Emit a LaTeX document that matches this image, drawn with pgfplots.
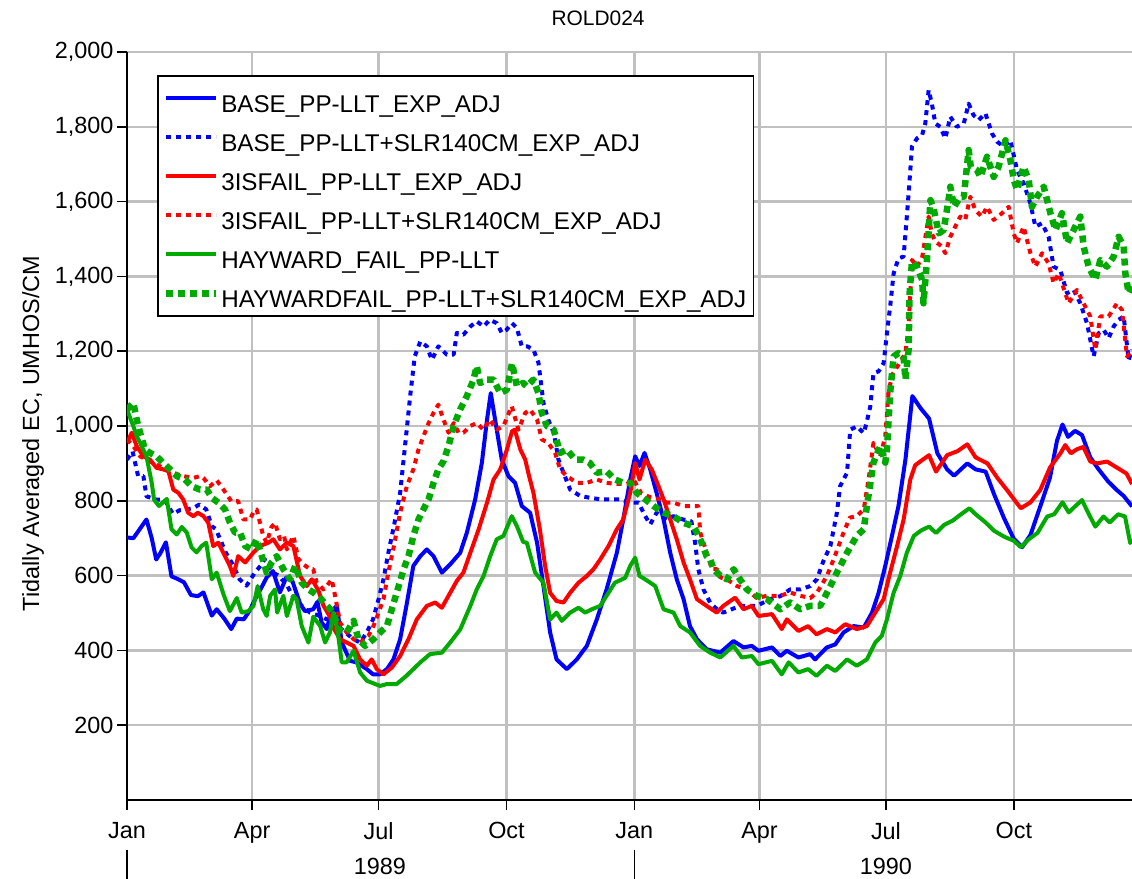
\documentclass[border=0pt]{standalone}
\usepackage{pgfplots}
\pgfplotsset{compat=1.18}
\usepackage{fontspec}
\setmainfont{Liberation Sans}
\definecolor{cblue}{RGB}{0,0,255}
\definecolor{cred}{RGB}{255,0,0}
\definecolor{cgreen}{RGB}{0,170,0}
\definecolor{cgrid}{RGB}{192,192,192}
\newcommand{\fs}{\fontsize{23.5}{28}\selectfont}
\newcommand{\fl}{\fontsize{24.3}{29}\selectfont}
\begin{document}
\begin{tikzpicture}
\begin{axis}[
  scale only axis, width=1005bp, height=748bp,
  xmin=0, xmax=723, ymin=0, ymax=2000,
  axis lines=left, axis line style={-, line width=2bp, black},
  clip mode=individual,
  xtick={0,90,181,273,365,455,546,638},
  xticklabels={Jan,Apr,Jul,Oct,Jan,Apr,Jul,Oct},
  ytick={200,400,...,2000},
  grid=major, major grid style={line width=2.5bp, cgrid},
  tick align=outside, major tick length=10bp,
  tick style={black, line width=1.5bp},
  /pgf/number format/assume math mode=true,
  /pgf/number format/1000 sep={,},
  tick label style={font=\fs},
  xticklabel style={yshift=-9bp},
  every axis plot/.append style={line join=round},
  legend style={at={(0.0299,0.969)}, anchor=north west, draw=black, line width=1.5bp,
     font=\fl, inner xsep=5bp, inner ysep=6bp, row sep=6bp,
     nodes={inner sep=2bp, text height=29bp, text depth=0bp}},
  legend cell align=left,
  legend image code/.code={\draw[#1] (0bp,0bp) -- (50bp,0bp);},
]
\coordinate (SW) at (rel axis cs:0,0);
\coordinate (NE) at (rel axis cs:1,1);
\coordinate (YL) at (rel axis cs:0,0.49);
% BASE_PP-LLT_EXP_ADJ
\addplot[cblue, line width=4bp] coordinates {
(0,702) (4.6,700) (14,750) (17.8,700) (21,643) (24,660) (28,689) (32,598) (37,590) (41,582)
(46,548) (51,545) (55,555) (61,493) (64.5,510) (70,485) (75,457) (79,485) (84,483) (88,505)
(92,535) (96,563) (100.5,595) (105,612) (110,555) (114.6,595) (119,585) (124.5,525) (128,505)
(134,510) (137,530) (140,475) (143.7,457) (147,505) (151,519) (154.5,421) (160.5,372) (165,368)
(172.5,350) (177,336) (182,336) (187,350) (191.7,376) (196.5,430) (201,519) (206,626) (211,652)
(215.7,670) (220.5,652) (226.5,608) (232.5,630) (239.7,661) (244.5,715) (250.5,804) (255.3,902)
(259,1017) (261.7,1088) (264.8,1017) (269.6,910) (274.4,866) (279.2,848) (284,786) (290,768)
(295,688) (299.6,572) (304.4,448) (309,376) (316.4,350) (323.6,376) (330.8,412) (338,483)
(345,563) (352.4,661) (357,750) (362,857) (365.6,919) (368.7,893) (372.3,928) (376.4,884)
(381,821) (386,750) (390.8,661) (395.5,590) (400.4,537) (405,465) (410,430) (417,403)
(426.8,394) (436.3,425) (443.5,408) (449.5,412) (454.3,399) (464,408) (470,385) (474.7,399)
(483,381) (491.5,390) (495,376) (503.5,408) (509.5,416) (515.5,448) (522.7,465) (530,461)
(536,501) (540.7,554) (545.5,626) (550.3,706) (555,786) (560,910) (565,1080) (571,1047)
(577,1020) (583,927) (590,884) (595,867) (604.5,900) (610.5,884) (617.7,878) (623.7,818)
(631,753) (638,698) (644,676) (650,709) (657,785) (664,862) (669,960) (673,1004) (677,971)
(682,987) (687,976) (693,916) (699,884) (706,851) (712,829) (717,813) (723,785)
};
\addlegendentry{BASE\_PP-LLT\_EXP\_ADJ}
% BASE_PP-LLT+SLR140CM_EXP_ADJ
\addplot[cblue, line width=4bp, dash pattern=on 5bp off 5bp] coordinates {
(0,910) (4,932) (8,866) (11.8,866) (14,812) (21,803) (27,803) (33,765) (38,775) (43,777)
(48,781) (52,790) (57,777) (61,732) (64,724) (66,706) (71,662) (76,630) (81,590) (86,573)
(92,608) (96,626) (99,644) (103,612) (109,600) (115,575) (119,546) (125.7,519) (131.7,501)
(138.8,492) (143.7,483) (148.5,519) (152,465) (157,448) (163,430) (167.7,421) (172.5,448)
(177,483) (181,537) (184.5,590) (188,661) (192,732) (196.5,821) (200,946) (203.7,1080)
(207,1186) (211,1226) (215.7,1213) (219.3,1177) (224,1213) (230,1191) (235,1191) (237.3,1249)
(242,1244) (247,1266) (251.6,1280) (256.5,1266) (261,1284) (266,1275) (269.6,1249) (273,1257)
(277,1275) (280.5,1262) (284,1213) (288,1213) (292.4,1204) (296,1169) (299.6,1062) (303,1017)
(307,982) (310.4,910) (314,875) (318.8,830) (326,813) (333,808) (340.4,804) (347.6,804)
(354.8,804) (362,795) (368,795) (372.8,759) (376.4,737) (381,768) (388.4,750) (393,759)
(400,750) (406,745) (408.7,688) (411,617) (414.7,563) (419.5,528) (424.4,510) (429,501)
(441,519) (453,519) (462.7,537) (470,545) (477,563) (484.3,563) (491.5,572) (496.3,590)
(501,639) (506,679) (510.7,768) (513,839) (518,875) (520.3,990) (525,999) (530,981) (532,1008)
(534.7,1052) (537,1141) (540.7,1146) (544.3,1168) (546.7,1248) (549,1319) (551.5,1408)
(555,1448) (558.7,1453) (561,1560) (562.3,1622) (563.5,1684) (564.7,1747) (568.3,1769)
(572,1778) (574.3,1809) (576.7,1898) (579,1862) (581.5,1809) (585,1800) (588.7,1769)
(592.3,1827) (597,1800) (602,1809) (605.5,1862) (609,1831) (612.7,1818) (617.5,1836)
(622.3,1782) (626,1760) (630.7,1747) (635.5,1764) (640.3,1684) (645,1649) (649.9,1595)
(653.5,1533) (658.3,1542) (663,1506) (666.6,1426) (671.4,1417) (676.3,1355) (681,1364)
(685.8,1328) (690.6,1275) (695.4,1186) (699,1248) (702.6,1257) (706.2,1235) (709.8,1266)
(713.4,1284) (717,1293) (720.6,1177) (723,1204)
};
\addlegendentry{BASE\_PP-LLT+SLR140CM\_EXP\_ADJ}
% 3ISFAIL_PP-LLT_EXP_ADJ
\addplot[cred, line width=4bp] coordinates {
(0,955) (3.4,982) (7,946) (11.8,919) (16.5,910) (21.3,888) (26,884) (29.8,879) (33.3,830)
(37,821) (40.5,803) (44,768) (47.7,759) (51,768) (55,759) (58.5,741) (62,679) (65.7,688)
(70.5,652) (74,626) (76.5,599) (80,652) (85,635) (91,662) (95.7,679) (101.7,688) (105.3,697)
(110,670) (115,688) (119.7,679) (124.5,599) (129.3,572) (133,590) (137.7,560) (141.3,520)
(146,490) (148.5,460) (153.3,430) (158,421) (163,412) (167.7,376) (172.5,359) (176,376)
(179.7,350) (184.5,336) (190.5,354) (196.5,385) (202.5,430) (208.5,483) (215.7,519)
(221.7,528) (226.5,514) (231.3,546) (237.3,586) (242,608) (247,661) (253,724) (259,795)
(263.7,857) (268.5,884) (273.3,937) (277,986) (279,990) (283,937) (286.5,910) (289,870)
(292.4,821) (297,724) (300.8,626) (304.4,554) (309,532) (314,528) (318.8,554) (324.8,581)
(330.8,599) (335.6,617) (340.4,643) (346.4,679) (352.4,724) (357,750) (362,821) (365.6,901)
(368.7,857) (372.8,910) (377.5,884) (382.4,839) (386,804) (390.8,750) (395.5,697) (400.4,635)
(405,590) (410,537) (417,519) (424.3,501) (429,519) (437.5,541) (443.5,510) (449.5,519)
(454.3,492) (464,497) (471,457) (474.7,483) (483,452) (490,465) (496,443) (503.5,457)
(509.5,448) (516.7,470) (525,457) (532.3,465) (538.3,501) (544.3,537) (549,608) (554,679)
(558.7,750) (563.5,857) (567,895) (571,906) (577,922) (582,878) (590,922) (597.6,933)
(604.5,951) (610.5,916) (619,900) (626,862) (633,829) (643,780) (650,796) (657,829) (664,889)
(671.5,927) (675,949) (679,927) (683.5,938) (688,944) (693,905) (698,900) (705,905) (712,889)
(719,873) (723,845)
};
\addlegendentry{3ISFAIL\_PP-LLT\_EXP\_ADJ}
% 3ISFAIL_PP-LLT+SLR140CM_EXP_ADJ
\addplot[cred, line width=4bp, dash pattern=on 5bp off 5bp] coordinates {
(0,964) (4.6,946) (9.4,919) (14,910) (19,901) (26,888) (33,875) (40.5,866) (47.7,861)
(52.5,866) (55,861) (59.7,839) (64.5,855) (69.4,830) (75,799) (80,799) (83.7,750) (88.5,750)
(91,770) (93.3,777) (98,706) (100.5,688) (104,730) (106.5,741) (110,697) (113,706) (115,670)
(119.7,706) (123.3,644) (127,630) (131.7,617) (134,617) (136.5,581) (141.3,563) (143.7,572)
(147.3,590) (149.7,546) (153.3,474) (158,448) (163,430) (167.7,421) (173.7,439) (177.3,465)
(181,501) (184.5,537) (188,608) (192,679) (196.5,768) (201.3,839) (206,884) (209.7,937)
(213.3,973) (217,1008) (220.5,1035) (224,1057) (227.7,1017) (231.3,982) (235,1008)
(238.5,982) (242,982) (247,1000) (251.6,1008) (256.5,990) (261,1017) (266,990) (270.8,1000)
(276.8,1053) (281.6,990) (286.5,1035) (290,1044) (295,1017) (298.4,964) (303,955) (308,928)
(311.6,884) (316.4,866) (323.6,848) (330.8,848) (338,857) (345,848) (352.4,845) (359.6,845)
(364.4,857) (370,820) (376,810) (383.6,804) (388.4,795) (393,795) (400.4,786) (406,786)
(411,786) (412.4,715) (417,662) (420.8,617) (424.4,617) (427,595) (431.6,590) (438.8,572)
(446,563) (453,540) (460.4,546) (470,546) (477,555) (484.3,546) (491.5,540) (496.3,554)
(503.5,599) (508.3,643) (515.5,715) (520,755) (525,759) (530,777) (533.5,857) (537,955)
(541.9,919) (545.5,973) (548,1097) (551,1140) (556,1170) (560,1195) (562.3,1266) (563.5,1355)
(564.7,1444) (568.3,1426) (572,1450) (576.7,1560) (579,1515) (581.5,1493) (586.3,1480)
(588.7,1462) (592.3,1506) (597,1542) (599.5,1560) (603,1551) (606.7,1613) (610.3,1577)
(615,1560) (618.7,1586) (623.5,1551) (629.5,1569) (634.3,1586) (637.9,1515) (640.3,1489)
(645,1533) (649.9,1462) (653.5,1426) (658.3,1462) (663,1435) (666.6,1382) (670.3,1408)
(677.4,1328) (683.4,1364) (688.2,1328) (693,1293) (696.6,1204) (700.2,1293) (706.2,1293)
(712.2,1328) (715.8,1310) (719.4,1186) (723,1200)
};
\addlegendentry{3ISFAIL\_PP-LLT+SLR140CM\_EXP\_ADJ}
% HAYWARD_FAIL_PP-LLT
\addplot[cgreen, line width=4bp] coordinates {
(0,1044) (4.6,999) (7,973) (9.4,955) (14,919) (17.8,848) (19.5,803) (23,786) (28.6,805)
(32,724) (35.8,710) (39.4,730) (43,715) (46.5,675) (50,662) (53.7,679) (57,688) (61,590)
(64.5,608) (69.4,550) (74,505) (79,540) (82.5,501) (87.3,505) (91,519) (94,572) (98,510)
(100.5,492) (103,546) (106.5,563) (108,501) (112.5,546) (115,492) (119.7,546) (122,537)
(125.7,465) (130.5,421) (134,490) (139,465) (142.5,421) (146,448) (148.5,501) (151,465)
(154.5,368) (158,368) (163,399) (167.7,341) (172.5,319) (178.5,310) (182,305) (187,310)
(194,310) (201,332) (206,350) (211,368) (218,390) (226.5,394) (232.5,421) (239.7,456)
(247,519) (251.6,563) (256.5,599) (261.3,652) (266,697) (270.8,706) (276.8,759) (280.5,732)
(285,690) (287.6,688) (293.6,608) (299.6,581) (304.4,483) (309,501) (312.8,479) (318.8,501)
(324.8,514) (329.6,501) (334.4,510) (340.4,519) (345,546) (351,581) (358.4,594) (362,626)
(365.6,648) (368.7,599) (372.8,590) (380,572) (386,510) (393.2,501) (398,465) (405,448)
(412.3,412) (419.5,394) (426.8,381) (436.3,412) (442.3,381) (449.5,385) (454.3,363) (464,372)
(471,336) (476,368) (483,341) (490,350) (496,332) (503.5,359) (509.5,345) (518,376) (525,359)
(532.3,376) (538.3,421) (543,439) (546.7,483) (551.5,554) (556.3,599) (561,661) (566,706)
(571,720) (577,731) (582,714) (588,736) (594,747) (600,764) (606,780) (610.5,764) (617.7,742)
(623.7,720) (631,704) (638,693) (643,676) (649,698) (655,714) (662,758) (667,764) (673,796)
(677.5,769) (682,785) (687,802) (692,764) (696.6,731) (702.5,758) (707,742) (713,764)
(718,758) (721.7,687) (723,698)
};
\addlegendentry{HAYWARD\_FAIL\_PP-LLT}
% HAYWARDFAIL_PP-LLT+SLR140CM_EXP_ADJ
\addplot[cgreen, line width=6.5bp, dash pattern=on 7bp off 5bp] coordinates {
(0,1044) (4.6,1062) (7,1017) (9.4,982) (13,937) (16.5,928) (21.3,919) (26,901) (31,884)
(35.8,866) (41.7,857) (46.5,839) (52.5,830) (57.4,830) (61,808) (65.7,795) (70.5,777)
(74.1,741) (77.7,715) (81.3,715) (85,679) (89.7,670) (93.3,697) (97,652) (100.5,608) (104,635)
(107.7,652) (112.5,617) (117.3,590) (121,626) (125.7,581) (130.5,563) (134,555) (139,540)
(143.7,520) (148.5,501) (152,456) (158,448) (163,479) (166.5,430) (171.3,412) (177.3,430)
(182,448) (187,465) (190.5,510) (194,554) (199,617) (202.5,652) (206,706) (209.7,750)
(213.3,777) (217,804) (220.5,848) (224,884) (227.7,906) (231.3,946) (235,1000) (239.7,1044)
(244.5,1080) (249.3,1124) (251.6,1160) (254,1115) (258.8,1124) (263.7,1124) (268.5,1088)
(273.3,1097) (277,1168) (280.5,1106) (285,1115) (287.6,1106) (292.4,1124) (296,1088)
(298.4,1035) (302,1000) (307,990) (311.6,928) (316.4,937) (322.4,910) (328.4,910) (333,901)
(338,875) (345,879) (351,857) (357,848) (362,848) (366.8,821) (372.8,804) (378.8,786)
(386,768) (393,759) (400.4,741) (407.6,732) (412.4,697) (417,652) (419.6,643) (422,617)
(426.8,600) (431.6,590) (436.4,617) (441,590) (446,563) (453,546) (460.4,537) (470,510)
(477,528) (484.3,510) (491.5,519) (498.7,519) (506,572) (510.7,608) (518,661) (525,706)
(530,724) (532.3,786) (537,902) (541.9,946) (545.5,902) (546.7,937) (549,1088) (551.5,1186)
(555,1195) (558.7,1186) (560,1124) (562.3,1204) (563,1355) (564.7,1440) (568.3,1426)
(572,1391) (573,1328) (575.5,1444) (578,1604) (580,1586) (584,1515) (587.5,1524) (591,1604)
(592.3,1640) (595,1586) (599.5,1613) (602,1613) (605.5,1738) (607,1693) (611.5,1684)
(614,1666) (618.7,1720) (623.5,1666) (627,1693) (632,1764) (635.5,1711) (638,1658)
(640.3,1631) (645,1693) (648.7,1658) (651,1586) (654.7,1613) (659.5,1640) (664.3,1569)
(668,1524) (672.6,1569) (676.3,1489) (679.8,1515) (685.8,1560) (688.2,1480) (691.8,1426)
(696.6,1391) (700.2,1444) (705,1426) (709.8,1453) (713.4,1506) (717,1480) (718.2,1408)
(720.6,1355) (723,1373)
};
\addlegendentry{HAYWARDFAIL\_PP-LLT+SLR140CM\_EXP\_ADJ}
% year labels and separators
\node[font=\fs] at (axis cs:182,0) [yshift=-66bp] {1989};
\node[font=\fs] at (axis cs:546,0) [yshift=-66bp] {1990};
\draw[black, line width=1.5bp] (axis cs:0,0) ++(0,-50bp) -- ++(0,-32bp);
\draw[black, line width=1.5bp] (axis cs:365,0) ++(0,-50bp) -- ++(0,-32bp);
\node[font=\fontsize{21}{25}\selectfont] at (rel axis cs:0.4687,1) [yshift=34bp] {ROLD024};
\end{axis}
\node[font=\fs, rotate=90] at ([xshift=-94bp]YL) {Tidally Averaged EC, UMHOS/CM};
\pgfresetboundingbox
\path ([shift={(-127bp,-79bp)}]SW) rectangle ([shift={(0bp,52bp)}]NE);
\end{tikzpicture}
\end{document}
